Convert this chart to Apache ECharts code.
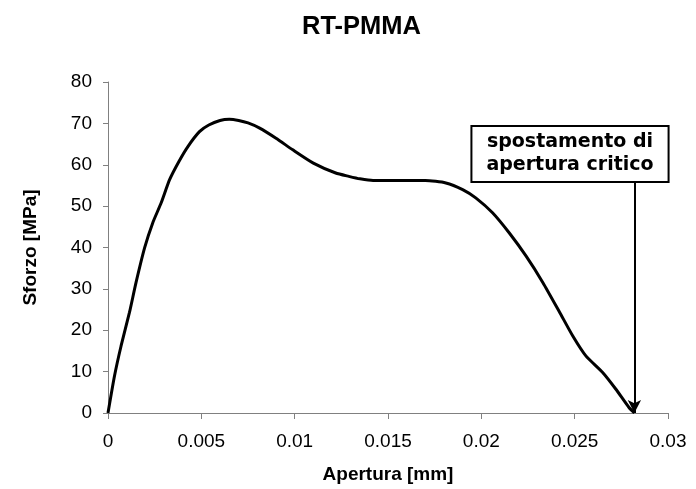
<!DOCTYPE html>
<html>
<head>
<meta charset="utf-8">
<title>RT-PMMA</title>
<script src="https://cdn.jsdelivr.net/npm/echarts@6/dist/echarts.min.js"></script>
<style>
  html, body { margin: 0; padding: 0; background: #fff; }
  #main { width: 696px; height: 489px; }
</style>
</head>
<body>
<div id="main"></div>
<script>
// apertura [mm] e sforzo [MPa]
var apertura = [0, 0.00035, 0.0007, 0.00115, 0.0015, 0.00196, 0.0024, 0.00285, 0.0033, 0.0038,
  0.00428, 0.0049, 0.0054, 0.006, 0.0065, 0.007, 0.0075, 0.0081, 0.009, 0.0099, 0.011,
  0.0122, 0.0129, 0.0135, 0.0142, 0.017, 0.0181, 0.019, 0.0197, 0.0206, 0.0215,
  0.0224, 0.0233, 0.0242, 0.0249, 0.0256, 0.0265, 0.0272, 0.0279, 0.0282];
var sforzo = [0, 9, 16.2, 24.3, 31.5, 39.9, 46, 50.8, 56.4, 60.8,
  64.4, 68, 69.6, 70.7, 71, 70.7, 70.1, 68.9, 66.4, 63.6, 60.4,
  58, 57.2, 56.6, 56.2, 56.2, 55.6, 54, 52, 48.4, 43.5,
  37.9, 31.5, 24.3, 18.6, 13.8, 9.8, 5.8, 1.4, 0];

// freccia "spostamento di apertura critico"
var freccia = { x: 0.0282, top: 56, bottom: 0 };
var etichetta = ['spostamento di', 'apertura critico'];

var curva = apertura.map(function (x, i) { return [x, sforzo[i]]; });

var chart = echarts.init(document.getElementById('main'), null, { renderer: 'canvas' });

var font = 'Liberation Sans, Arial';

var option = {
  backgroundColor: '#fff',
  animation: false,
  title: {
    text: 'RT-PMMA',
    left: 297,
    top: 9,
    textStyle: { fontFamily: font, fontSize: 25.5, fontWeight: 'bold', color: '#000' }
  },
  grid: { left: 108, right: 28, top: 82, bottom: 75 },
  xAxis: {
    type: 'value',
    min: 0,
    max: 0.03,
    interval: 0.005,
    name: 'Apertura [mm]',
    nameLocation: 'middle',
    nameGap: 52,
    nameTextStyle: { fontFamily: font, fontSize: 19, fontWeight: 'bold', color: '#000' },
    axisLine: { lineStyle: { color: '#808080', width: 1 } },
    axisTick: { show: true, inside: false, length: 6, lineStyle: { color: '#808080' } },
    axisLabel: { margin: 19, fontFamily: font, fontSize: 19, color: '#000' },
    splitLine: { show: false }
  },
  yAxis: {
    type: 'value',
    min: 0,
    max: 80,
    interval: 10,
    name: 'Sforzo [MPa]',
    nameLocation: 'middle',
    nameGap: 68,
    nameRotate: 90,
    nameTextStyle: { fontFamily: font, fontSize: 19, fontWeight: 'bold', color: '#000' },
    axisLine: { show: true, lineStyle: { color: '#808080', width: 1 } },
    axisTick: { show: true, inside: false, length: 5, lineStyle: { color: '#808080' } },
    axisLabel: { margin: 16, fontFamily: font, fontSize: 19, color: '#000' },
    splitLine: { show: false }
  },
  series: [
    {
      type: 'line',
      data: curva,
      smooth: 0.2,
      showSymbol: false,
      clip: false,
      lineStyle: { color: '#000', width: 3 },
      markLine: {
        silent: true,
        symbol: ['none', 'arrow'],
        symbolSize: [10, 13],
        label: { show: false },
        lineStyle: { color: '#000', width: 2, type: 'solid' },
        data: [[
          { coord: [freccia.x, freccia.top] },
          { coord: [freccia.x, freccia.bottom] }
        ]]
      }
    }
  ],
  graphic: [
    {
      type: 'text',
      x: 570,
      y: 127,
      z: 100,
      style: {
        text: etichetta.join('\n'),
        align: 'center',
        verticalAlign: 'top',
        font: 'bold 19px "DejaVu Sans"',
        lineHeight: 23,
        fill: '#000',
        backgroundColor: '#fff',
        borderColor: '#000',
        borderWidth: 2,
        padding: [4, 14]
      }
    }
  ]
};

chart.setOption(option);
</script>
</body>
</html>
